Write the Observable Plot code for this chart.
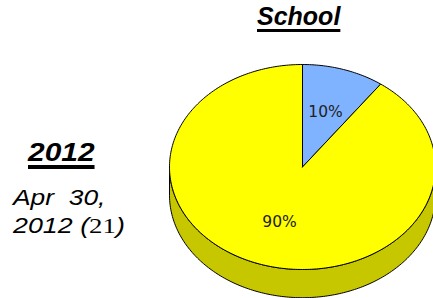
<!DOCTYPE html>
<html>
<head>
<meta charset="utf-8">
<script src="https://cdn.jsdelivr.net/npm/d3@7"></script>
<script src="https://cdn.jsdelivr.net/npm/@observablehq/plot@0.6"></script>
<style>
  html, body { margin: 0; padding: 0; background: #fff; }
  #wrap { position: relative; width: 433px; height: 298px; overflow: hidden; }
  #chart { position: absolute; left: 0; top: 0; }
  .t { position: absolute; font-family: "Liberation Sans", Arial, sans-serif; font-style: italic; color: #000; white-space: pre; line-height: 1; transform-origin: 0 0; }
  .bold { font-weight: bold; text-decoration: underline; text-underline-offset: 4px; }
  .serif { font-family: "Liberation Serif", "Times New Roman", serif; font-style: normal; }
</style>
</head>
<body>
<div id="wrap">
  <div id="chart"></div>
  <div class="t bold" id="title" style="left:257px; top:4px; font-size:25px; text-decoration-thickness:3px;">School</div>
  <div class="t bold" id="year" style="left:28px; top:139px; font-size:26px; text-decoration-thickness:4px; transform:scaleX(1.15);">2012</div>
  <div class="t" id="sub1" style="left:13px; top:187px; font-size:22px; transform:scaleX(1.2);">Apr  30,</div>
  <div class="t" id="sub2" style="left:13px; top:215px; font-size:22px; transform:scaleX(1.22);">2012 (<span class="serif">21</span>)</div>
</div>
<script>
// ---- data ----
const categories = ["Slice A", "Slice B"];
const values = [10, 90];
const colors = ["#80B3FF", "#FFFF00"];

// ---- geometry derived from data ----
const total = d3.sum(values);
const deg = Math.PI / 180;
const depth = 0.275; // thickness of the 3D side, in y-scale units
let acc = 0;
const slices = values.map((v, i) => {
  const a0 = acc / total * 2 * Math.PI;
  acc += v;
  const a1 = acc / total * 2 * Math.PI;
  return {i, key: categories[i], value: v, a0, a1};
});
function arc(a0, a1, dy = 0) {
  const n = Math.max(2, Math.ceil((a1 - a0) / deg));
  return d3.range(n + 1).map(k => {
    const a = a0 + (a1 - a0) * k / n;
    return {x: Math.sin(a), y: -Math.cos(a) + dy};
  });
}
function darker(c, f) {
  const r = d3.rgb(c);
  return d3.rgb(r.r * f, r.g * f, r.b * f).formatHex();
}
const marks = [];
// sides (visible from 90° to 270°)
for (const s of slices) {
  const b0 = Math.max(s.a0, 90 * deg), b1 = Math.min(s.a1, 270 * deg);
  if (b1 <= b0) continue;
  const top = arc(b0, b1, 0);
  const bot = arc(b0, b1, depth).reverse();
  const pts = [...top, ...bot, top[0]];
  marks.push(Plot.line(pts, {x: "x", y: "y", fill: darker(colors[s.i], 0.78), stroke: "#000", strokeWidth: 1, strokeLinejoin: "round"}));
}
// top faces
for (const s of slices) {
  const pts = [{x: 0, y: 0}, ...arc(s.a0, s.a1), {x: 0, y: 0}];
  marks.push(Plot.line(pts, {x: "x", y: "y", fill: colors[s.i], stroke: "#000", strokeWidth: 1, strokeLinejoin: "round"}));
}
// labels
const labels = slices.map(s => {
  const m = (s.a0 + s.a1) / 2;
  return {x: Math.sin(m) * 0.56, y: -Math.cos(m) * 0.56, text: Math.round(s.value / total * 100) + "%"};
});
marks.push(Plot.text(labels, {x: "x", y: "y", text: "text", fontSize: 15.5, fontFamily: "DejaVu Sans", fill: "#222"}));

const chart = Plot.plot({
  width: 433,
  height: 298,
  margin: 0,
  x: {domain: [-1, 1], range: [169, 435], axis: null},
  y: {domain: [-1, 1], range: [64, 269], axis: null},
  marks
});
document.getElementById("chart").appendChild(chart);
</script>
</body>
</html>
